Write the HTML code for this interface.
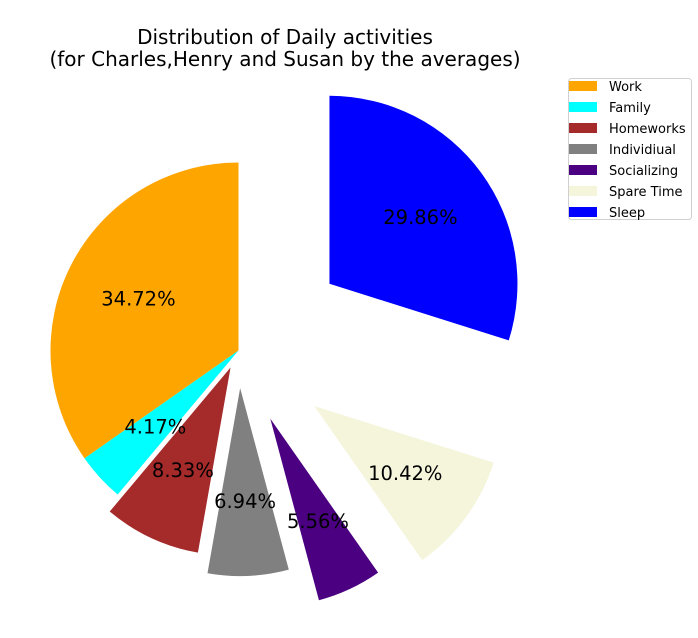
<!DOCTYPE html>
<html><head><meta charset="utf-8"><style>
body{margin:0;background:#fff;}
svg text{font-family:"DejaVu Sans","Liberation Sans",sans-serif;}
</style></head><body>
<svg id="chart" width="698" height="633" viewBox="0 0 698 633" xmlns="http://www.w3.org/2000/svg">
<text x="285" y="44" font-size="20" text-anchor="middle">Distribution of Daily activities</text>
<text x="285" y="66" font-size="20" text-anchor="middle">(for Charles,Henry and Susan by the averages)</text>
<g id="slices"></g>
<g id="labels"></g>
<g id="legend">
<rect x="568.5" y="78.5" width="123" height="141" rx="3" fill="#fff" stroke="#d0d0d0"/>
</g>
</svg>
<script>
const categories=["Work","Family","Homeworks","Individiual","Socializing","Spare Time","Sleep"];
const hours=[25,3,6,5,4,7.5,21.5];
const explode=[0,0,0.1,0.2,0.4,0.5,0.6];
const colors=["#ffa500","#00ffff","#a52a2a","#808080","#4b0082","#f5f5dc","#0000ff"];
const NS="http://www.w3.org/2000/svg";
const cx=238.5,cy=350.5,R=188;
const total=hours.reduce((a,b)=>a+b,0);
const slices=document.getElementById('slices'),labels=document.getElementById('labels'),legend=document.getElementById('legend');
let a0=90;
function pt(x,y,ang,r){const t=ang*Math.PI/180;return [x+r*Math.cos(t),y-r*Math.sin(t)];}
hours.forEach((v,i)=>{
  const sweep=v/total*360,a1=a0+sweep,mid=(a0+a1)/2;
  const [vx,vy]=pt(cx,cy,mid,explode[i]*R);
  const [x0,y0]=pt(vx,vy,a0,R),[x1,y1]=pt(vx,vy,a1,R);
  const p=document.createElementNS(NS,'path');
  p.setAttribute('d',`M${vx},${vy}L${x0},${y0}A${R},${R} 0 ${sweep>180?1:0} 0 ${x1},${y1}Z`);
  p.setAttribute('fill',colors[i]);
  
  
  slices.appendChild(p);
  const [lx,ly]=pt(vx,vy,mid,0.6*R);
  const t=document.createElementNS(NS,'text');
  t.setAttribute('x',lx);t.setAttribute('y',ly+7);t.setAttribute('font-size','19.5');t.setAttribute('text-anchor','middle');
  t.textContent=(v/total*100).toFixed(2)+'%';
  
  
  labels.appendChild(t);
  const y=81+i*21;
  const r=document.createElementNS(NS,'rect');
  r.setAttribute('x',569);r.setAttribute('y',y);r.setAttribute('width',28);r.setAttribute('height',10);r.setAttribute('fill',colors[i]);
  
  
  legend.appendChild(r);
  const lt=document.createElementNS(NS,'text');
  lt.setAttribute('x',609);lt.setAttribute('y',y+10);lt.setAttribute('font-size','13');lt.textContent=categories[i];
  
  
  legend.appendChild(lt);
  a0=a1;
});
</script>
</body></html>
